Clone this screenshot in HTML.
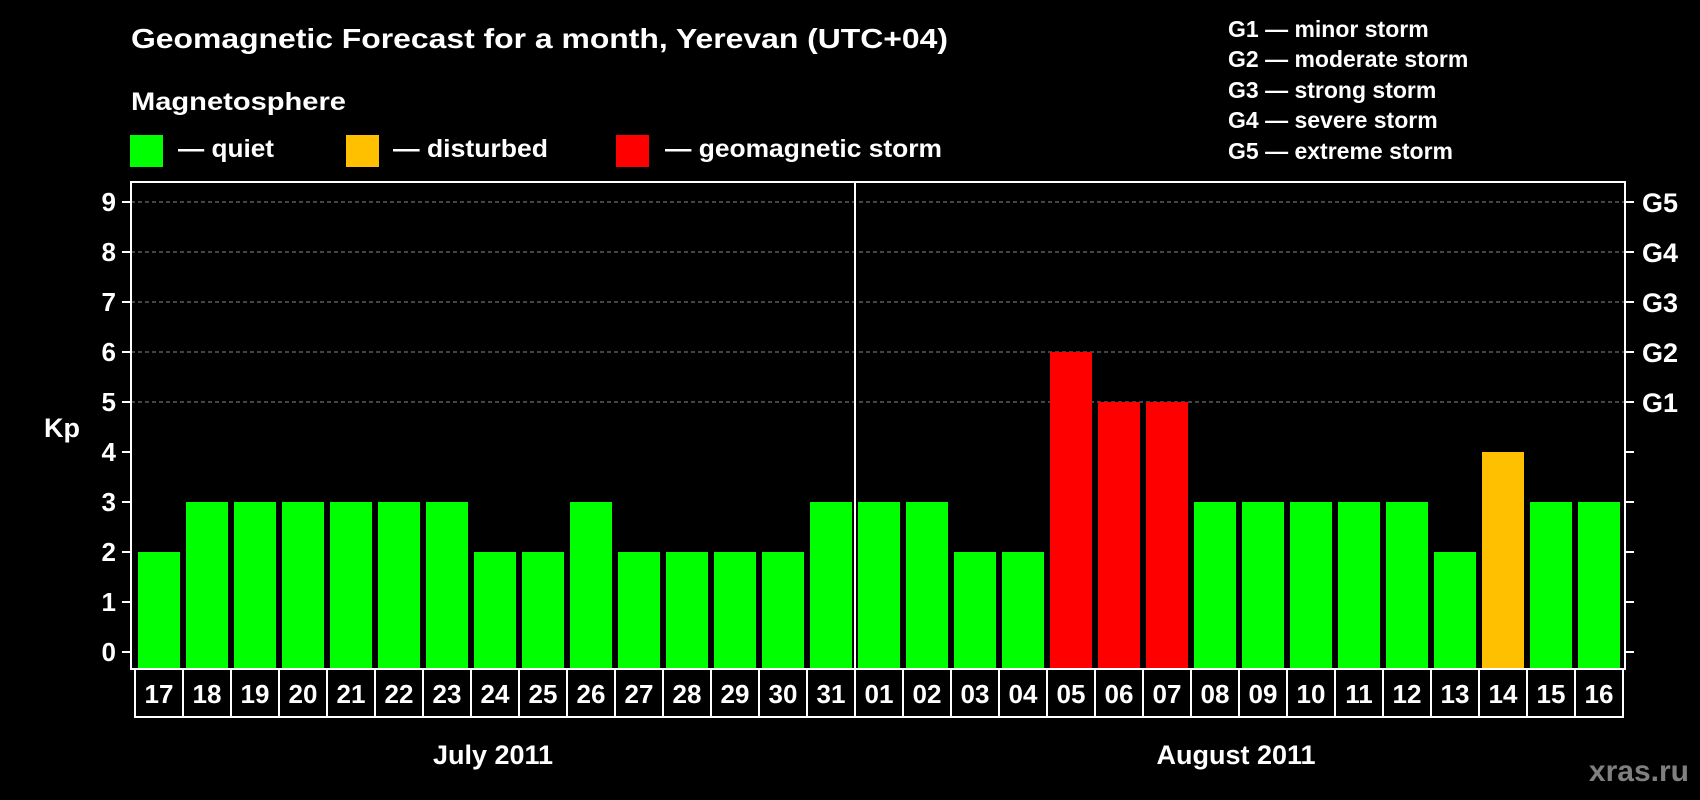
<!DOCTYPE html>
<html><head><meta charset="utf-8"><style>
html,body{margin:0;padding:0;background:#000;}
svg{display:block;font-family:"Liberation Sans",Arial,sans-serif;font-weight:bold;}
</style></head><body>
<svg id="chart" width="1700" height="800" viewBox="0 0 1700 800" xmlns="http://www.w3.org/2000/svg">
<rect width="1700" height="800" fill="#000"/>
<text x="131" y="48" font-size="28" fill="#fff" textLength="817" lengthAdjust="spacingAndGlyphs">Geomagnetic Forecast for a month, Yerevan (UTC+04)</text>
<text x="131" y="110" font-size="25" fill="#fff" textLength="215" lengthAdjust="spacingAndGlyphs">Magnetosphere</text>
<g>
<rect x="130" y="135" width="33" height="32" fill="#00ff00"/>
<text x="178" y="157" font-size="25" fill="#fff" textLength="96" lengthAdjust="spacingAndGlyphs">— quiet</text></g>
<g>
<rect x="346" y="135" width="33" height="32" fill="#ffc000"/>
<text x="393" y="157" font-size="25" fill="#fff" textLength="155" lengthAdjust="spacingAndGlyphs">— disturbed</text></g>
<g>
<rect x="616" y="135" width="33" height="32" fill="#ff0000"/>
<text x="665" y="157" font-size="25" fill="#fff" textLength="277" lengthAdjust="spacingAndGlyphs">— geomagnetic storm</text></g>
<g font-size="23" fill="#fff">
<text x="1228" y="37">G1 — minor storm</text>
<text x="1228" y="67">G2 — moderate storm</text>
<text x="1228" y="98">G3 — strong storm</text>
<text x="1228" y="128">G4 — severe storm</text>
<text x="1228" y="159">G5 — extreme storm</text>
</g>
<g id="plot"></g>
<text x="62" y="437" font-size="27" fill="#fff" text-anchor="middle">Kp</text>
<text x="493" y="764" font-size="27" fill="#fff" text-anchor="middle">July 2011</text>
<text x="1236" y="764" font-size="27" fill="#fff" text-anchor="middle">August 2011</text>
<text x="1689" y="781" font-size="30" fill="#808080" text-anchor="end">xras.ru</text>
</svg>
<script>
const days = ["17","18","19","20","21","22","23","24","25","26","27","28","29","30","31","01","02","03","04","05","06","07","08","09","10","11","12","13","14","15","16"];
const kpValues = [2,3,3,3,3,3,3,2,2,3,2,2,2,2,3,3,3,2,2,6,5,5,3,3,3,3,3,2,4,3,3];
const yTicks = [0,1,2,3,4,5,6,7,8,9];
const gLabels = ["G1","G2","G3","G4","G5"];
const monthBreakIndex = 15;

const NS = "http://www.w3.org/2000/svg";
const g = document.getElementById("plot");
const L = 131, R = 1625, T = 182, B = 669;
const y = v => 652 - v * 50;
const barX = i => 138 + i * 48;
const BW = 42;
function mk(tag, attrs, parent) {
  const e = document.createElementNS(NS, tag);
  for (const k in attrs) e.setAttribute(k, attrs[k]);
  (parent || g).appendChild(e);
  return e;
}
// gridlines
yTicks.forEach(t => {
  if (t >= 5) {
    const l = mk("line", {x1: L, x2: R, y1: y(t), y2: y(t), stroke: "#888", "stroke-width": 1, "stroke-dasharray": "4,3"});
    
    
  }
  const tl = mk("line", {x1: L - 9, x2: L, y1: y(t), y2: y(t), stroke: "#fff", "stroke-width": 2});
  
  
  const tr = mk("line", {x1: R, x2: R + 9, y1: y(t), y2: y(t), stroke: "#fff", "stroke-width": 2});
  
  
  const tx = mk("text", {x: 116, y: y(t) + 9, "font-size": 26, fill: "#fff", "text-anchor": "end"});
  tx.textContent = t;
  
  
});
gLabels.forEach((lab, i) => {
  const tx = mk("text", {x: 1642, y: y(5 + i) + 10, "font-size": 27, fill: "#fff"});
  tx.textContent = lab;
  
  
});
// bars
kpValues.forEach((v, i) => {
  const col = v >= 5 ? "#ff0000" : (v >= 4 ? "#ffc000" : "#00ff00");
  const r = mk("rect", {x: barX(i), y: y(v), width: BW, height: B - y(v), fill: col});
  
  
});
// frame
const fr = mk("rect", {x: L, y: T, width: R - L, height: B - T, fill: "none", stroke: "#fff", "stroke-width": 2});


// month separator
const sx = barX(monthBreakIndex) - 3;
const sep = mk("line", {x1: sx, x2: sx, y1: T, y2: B, stroke: "#fff", "stroke-width": 2});


// day label boxes
days.forEach((d, i) => {
  const bx = barX(i) - 3;
  const r = mk("rect", {x: bx, y: B, width: 48, height: 48, fill: "#000", stroke: "#fff", "stroke-width": 2});
  
  
  const t = mk("text", {x: bx + 24, y: B + 34, "font-size": 26, fill: "#fff", "text-anchor": "middle"});
  t.textContent = d;
  
  
});
</script>
</body></html>
